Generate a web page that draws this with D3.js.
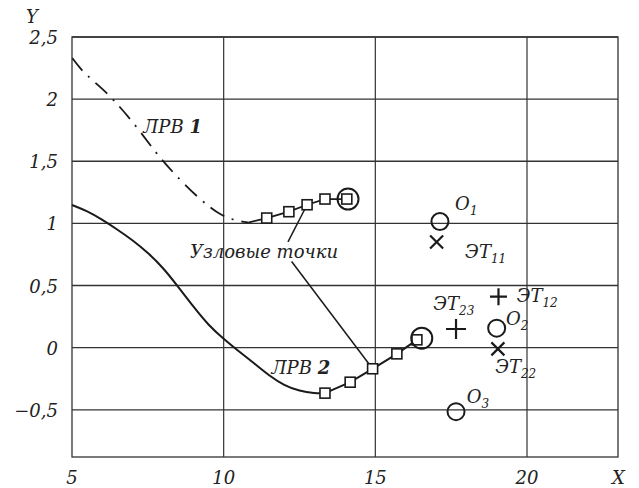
<!DOCTYPE html>
<html><head><meta charset="utf-8">
<script src="https://cdn.jsdelivr.net/npm/d3@7/dist/d3.min.js"></script>
<style>
body{margin:0;background:#fff;}
</style></head><body>
<svg id="c" width="639" height="488"></svg>
<script>
// ---- data ----
const xTicks = [5, 10, 15, 20];
const yTicks = [-0.5, 0, 0.5, 1, 1.5, 2, 2.5];
const yTickLabels = ["−0,5", "0", "0,5", "1", "1,5", "2", "2,5"];
// ЛРВ 1 (dash-dot part)
const lrv1X = [5.01, 5.26, 5.5, 5.92, 6.36, 7.11, 7.77, 8.34, 9.22, 9.94, 10.43, 10.81];
const lrv1Y = [2.33, 2.25, 2.19, 2.10, 2.00, 1.786, 1.566, 1.405, 1.19, 1.056, 1.023, 1.007];
// ЛРВ 1 node points (solid)
const node1X = [10.81, 11.42, 12.15, 12.75, 13.34, 14.06];
const node1Y = [1.007, 1.043, 1.094, 1.15, 1.196, 1.196];
// ЛРВ 2 smooth curve
const lrv2X = [5.0, 5.5, 6.0, 6.5, 7.0, 7.5, 8.0, 8.5, 9.0, 9.5, 10.0, 10.5, 11.0, 11.5, 12.0, 12.5, 13.0, 13.34];
const lrv2Y = [1.148, 1.10, 1.03, 0.95, 0.865, 0.765, 0.645, 0.49, 0.33, 0.18, 0.07, -0.03, -0.125, -0.225, -0.305, -0.35, -0.367, -0.366];
// squares (node points)
const sq1X = [11.42, 12.15, 12.75, 13.34, 14.06];
const sq1Y = [1.043, 1.094, 1.15, 1.196, 1.196];
const node2X = [13.34, 14.17, 14.91, 15.71, 16.37];
const node2Y = [-0.366, -0.278, -0.17, -0.05, 0.063];
// circled end points
const bigCircX = [14.1, 16.53];
const bigCircY = [1.196, 0.076];
// O points
const oX = [17.13, 19.0, 17.66];
const oY = [1.015, 0.157, -0.515];
// ЭТ crosses (x) and pluses (+)
const crossX = [17.02, 19.04];
const crossY = [0.85, -0.01];
const plusX = [19.06, 17.66];
const plusY = [0.41, 0.15];
// labels
const labelText = ["O", "ЭТ", "ЭТ", "ЭТ", "O", "ЭТ", "O"];
const labelSub = ["1", "11", "12", "23", "2", "22", "3"];
const labelX = [17.63, 17.96, 19.66, 16.91, 19.31, 18.95, 18.01];
const labelY = [1.109, 0.72, 0.371, 0.304, 0.184, -0.205, -0.442];
// leader lines from label "Узловые точки"
const leadFromX = [12.12, 12.24];
const leadFromY = [0.852, 0.693];
const leadToX = [12.75, 14.91];
const leadToY = [1.15, -0.17];

// ---- chart ----
const svg = d3.select("#c");
const x = d3.scaleLinear().domain([5, 23]).range([72, 618]);
const y = d3.scaleLinear().domain([-0.88, 2.5]).range([457, 37]);
const ink = "#1a1a1a";
const FS = 18;
const FONT = "DejaVu Serif";
function T(sel) { return sel.attr("font-family", FONT).attr("font-style", "italic").attr("fill", "#222"); }

// grid
const g = svg.append("g");
g.selectAll("line.h").data(yTicks).enter().append("line")
  .attr("x1", x(5)).attr("x2", x(23)).attr("y1", d => y(d)).attr("y2", d => y(d))
  .attr("stroke", "#333").attr("stroke-width", 1.3);
g.selectAll("line.v").data(xTicks.slice(1)).enter().append("line")
  .attr("y1", y(-0.88)).attr("y2", y(2.5)).attr("x1", d => x(d)).attr("x2", d => x(d))
  .attr("stroke", "#333").attr("stroke-width", 1.2);
g.append("rect").attr("x", x(5)).attr("y", y(2.5)).attr("width", x(23) - x(5)).attr("height", y(-0.88) - y(2.5))
  .attr("fill", "none").attr("stroke", "#333").attr("stroke-width", 1.3);

// tick labels
T(svg.selectAll("text.yt").data(yTicks).enter().append("text"))
  .attr("x", 58).attr("y", d => y(d) + 7).attr("text-anchor", "end")
  .attr("font-size", FS).text((d, i) => yTickLabels[i]);
T(svg.selectAll("text.xt").data(xTicks).enter().append("text"))
  .attr("x", d => x(d)).attr("y", 484).attr("text-anchor", "middle")
  .attr("font-size", FS).text(d => d);
T(svg.append("text")).attr("x", 612).attr("y", 484).attr("font-size", FS).text("X");
T(svg.append("text")).attr("x", 26).attr("y", 23).attr("font-size", FS).text("Y");

const line = d3.line().x(d => x(d[0])).y(d => y(d[1]));
// ЛРВ 1
svg.append("path").datum(lrv1X.map((v, i) => [v, lrv1Y[i]]))
  .attr("d", line.curve(d3.curveBasis)).attr("fill", "none").attr("stroke", ink)
  .attr("stroke-width", 1.8).attr("stroke-dasharray", "16,8,2,8");
svg.append("path").datum(node1X.map((v, i) => [v, node1Y[i]]))
  .attr("d", line.curve(d3.curveLinear)).attr("fill", "none").attr("stroke", ink).attr("stroke-width", 1.8);
// ЛРВ 2
svg.append("path").datum(lrv2X.map((v, i) => [v, lrv2Y[i]]))
  .attr("d", line.curve(d3.curveBasis)).attr("fill", "none").attr("stroke", ink).attr("stroke-width", 2);
svg.append("path").datum(node2X.map((v, i) => [v, node2Y[i]]))
  .attr("d", line.curve(d3.curveLinear)).attr("fill", "none").attr("stroke", ink).attr("stroke-width", 2);

// leader lines
svg.selectAll("line.lead").data(leadFromX).enter().append("line")
  .attr("x1", d => x(d)).attr("y1", (d, i) => y(leadFromY[i]))
  .attr("x2", (d, i) => x(leadToX[i])).attr("y2", (d, i) => y(leadToY[i]))
  .attr("stroke", ink).attr("stroke-width", 1.5);

// squares
const sqs = sq1X.map((v, i) => [v, sq1Y[i]]).concat(node2X.map((v, i) => [v, node2Y[i]]));
svg.selectAll("rect.sq").data(sqs).enter().append("rect")
  .attr("x", d => x(d[0]) - 5).attr("y", d => y(d[1]) - 5).attr("width", 10).attr("height", 10)
  .attr("fill", "#fff").attr("stroke", ink).attr("stroke-width", 1.6);
// big circles around end nodes
svg.selectAll("circle.big").data(bigCircX).enter().append("circle")
  .attr("cx", d => x(d)).attr("cy", (d, i) => y(bigCircY[i])).attr("r", 10.5)
  .attr("fill", "none").attr("stroke", ink).attr("stroke-width", 2);
// O circles
svg.selectAll("circle.o").data(oX).enter().append("circle")
  .attr("cx", d => x(d)).attr("cy", (d, i) => y(oY[i])).attr("r", 8.5)
  .attr("fill", "none").attr("stroke", ink).attr("stroke-width", 2);
// crosses
const cs = 6.5;
crossX.forEach((v, i) => {
  const cx = x(v), cy = y(crossY[i]);
  svg.append("path").attr("d", `M${cx - cs},${cy - cs}L${cx + cs},${cy + cs}M${cx - cs},${cy + cs}L${cx + cs},${cy - cs}`)
    .attr("stroke", ink).attr("stroke-width", 2.2);
});
// pluses
const ps = [8.5, 10];
plusX.forEach((v, i) => {
  const cx = x(v), cy = y(plusY[i]), s = ps[i];
  svg.append("path").attr("d", `M${cx - s},${cy}L${cx + s},${cy}M${cx},${cy - s}L${cx},${cy + s}`)
    .attr("stroke", ink).attr("stroke-width", 2.2);
});

// labels with subscripts
labelText.forEach((t, i) => {
  const tx = T(svg.append("text")).attr("x", x(labelX[i])).attr("y", y(labelY[i])).attr("font-size", FS);
  tx.append("tspan").text(t);
  tx.append("tspan").attr("font-size", 12).attr("dy", 5).text(labelSub[i]);
});
// curve labels
const cl = T(svg.append("text")).attr("x", x(7.35)).attr("y", y(1.727)).attr("font-size", FS);
cl.append("tspan").text("ЛРВ ");
cl.append("tspan").attr("font-weight", "bold").text("1");
const cl2 = T(svg.append("text")).attr("x", x(11.58)).attr("y", y(-0.211)).attr("font-size", FS);
cl2.append("tspan").text("ЛРВ ");
cl2.append("tspan").attr("font-weight", "bold").text("2");
T(svg.append("text")).attr("x", x(8.89)).attr("y", y(0.723)).attr("font-size", FS).text("Узловые точки");
</script></body></html>
